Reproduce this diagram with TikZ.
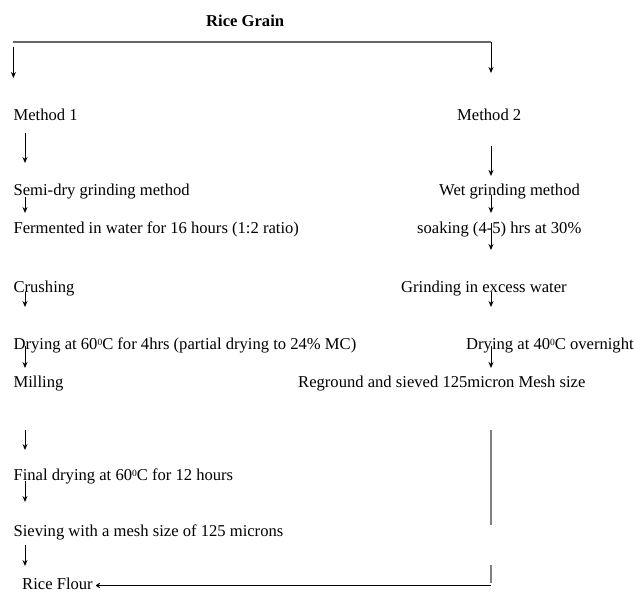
\documentclass[tikz,border=0pt]{standalone}
\usepackage{fontspec}
\setmainfont{Liberation Serif}
\usetikzlibrary{arrows.meta}
\newcommand{\degz}{\raisebox{0.42ex}{\fontsize{9.5}{10}\selectfont 0}}
\begin{document}
\begin{tikzpicture}[x=1pt,y=-1pt,
  lbl/.style={anchor=base west,inner sep=0pt,font=\fontsize{16.6}{20}\selectfont},
  arr/.style={-{Stealth[length=6pt,width=5pt]},line width=0.9pt},
  gline/.style={draw=gray,line width=1.4pt}]
\useasboundingbox (0,0) rectangle (634,593);
\fill[white] (0,0) rectangle (634,593);
% texts
\node[lbl,font=\fontsize{16.6}{20}\selectfont\bfseries] (grain) at (206,27) {Rice Grain};
\node[lbl] (m1) at (13.4,121) {Method 1};
\node[lbl] (m2) at (457,121) {Method 2};
\node[lbl] (semi) at (13.4,196) {Semi-dry grinding method};
\node[lbl] (wet) at (439,196) {Wet grinding method};
\node[lbl] (ferm) at (13.4,234) {Fermented in water for 16 hours (1:2 ratio)};
\node[lbl] (soak) at (417,234) {soaking (4-5) hrs at 30\%};
\node[lbl] (crush) at (13.4,293) {Crushing};
\node[lbl] (grind) at (401,293) {Grinding in excess water};
\node[lbl] (dry1) at (13.4,349) {Drying at 60\degz C for 4hrs (partial drying to 24\% MC)};
\node[lbl] (dry2) at (466,349) {Drying at 40\degz C overnight};
\node[lbl] (mill) at (13.4,387) {Milling};
\node[lbl] (regr) at (298,387) {Reground and sieved 125micron Mesh size};
\node[lbl] (final) at (13.4,480) {Final drying at 60\degz C for 12 hours};
\node[lbl] (sieve) at (13.4,536) {Sieving with a mesh size of 125 microns};
\node[lbl] (flour) at (22,589) {Rice Flour};
% coordinates
\coordinate (tl) at (13.4,42);
\coordinate (tr) at (491,42);
\coordinate (m2top) at (491,73);
\coordinate (m1a) at (13.4,47);  \coordinate (m1b) at (13.4,78);
\coordinate (l1a) at (25,133);  \coordinate (l1b) at (25,163);
\coordinate (l2a) at (25,197);  \coordinate (l2b) at (25,213);
\coordinate (l3a) at (25,292);  \coordinate (l3b) at (25,307);
\coordinate (l4a) at (25,346);  \coordinate (l4b) at (25,368);
\coordinate (l5a) at (25,430);  \coordinate (l5b) at (25,450);
\coordinate (l6a) at (25,481);  \coordinate (l6b) at (25,502);
\coordinate (l7a) at (25,545);  \coordinate (l7b) at (25,566);
\coordinate (r1a) at (491,146); \coordinate (r1b) at (491,176);
\coordinate (r2a) at (491,195); \coordinate (r2b) at (491,213);
\coordinate (r3a) at (491,223); \coordinate (r3b) at (491,250);
\coordinate (r4a) at (491,292); \coordinate (r4b) at (491,307);
\coordinate (r5a) at (491,346); \coordinate (r5b) at (491,368);
\coordinate (g1a) at (491,430); \coordinate (g1b) at (491,525);
\coordinate (g2a) at (491,565); \coordinate (g2b) at (491,583);
\coordinate (ba) at (491,585.5);  \coordinate (bb) at (96,585.5);
% connectors
\draw[draw=black!60,line width=1.2pt] (tl) -- (tr);
\draw[arr] (tr) -- (m2top);
\draw[arr] (m1a) -- (m1b);
\foreach \i in {1,...,7} {\draw[arr] (l\i a) -- (l\i b);}
\foreach \i in {1,...,5} {\draw[arr] (r\i a) -- (r\i b);}
\draw[gline] (g1a) -- (g1b);
\draw[gline] (g2a) -- (g2b);
\draw[-{To[length=4pt,width=5pt]},line width=1pt] (ba) -- (bb);
\end{tikzpicture}
\end{document}
